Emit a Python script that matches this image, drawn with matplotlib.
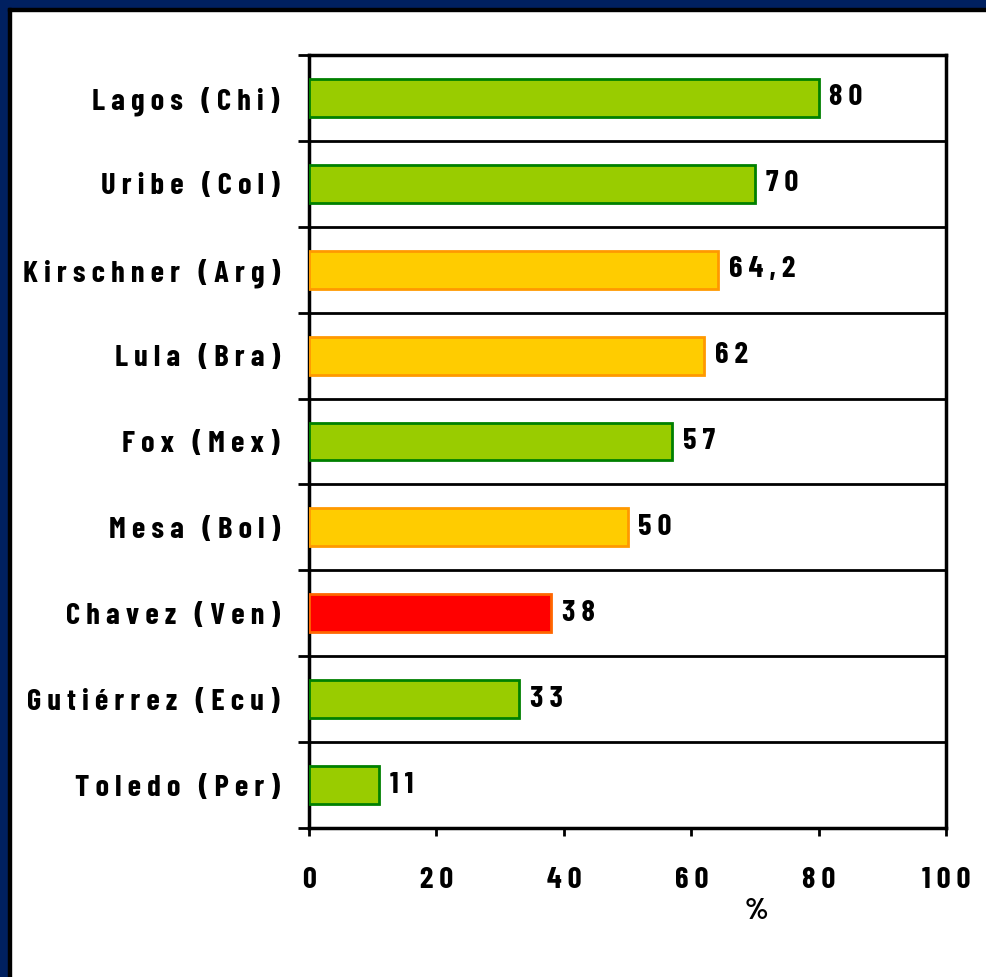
import matplotlib
matplotlib.use("Agg")
import matplotlib.pyplot as plt
from matplotlib.patches import Rectangle
import numpy as np

categories = ["Lagos (Chi)", "Uribe (Col)", "Kirschner (Arg)", "Lula (Bra)", "Fox (Mex)",
              "Mesa (Bol)", "Chavez (Ven)", "Gutiérrez (Ecu)", "Toledo (Per)"]
values = [80, 70, 64.2, 62, 57, 50, 38, 33, 11]
value_labels = ["80", "70", "64,2", "62", "57", "50", "38", "33", "11"]
groups = ["g", "g", "y", "y", "g", "y", "r", "g", "g"]
xticks = [0, 20, 40, 60, 80, 100]
xlabel = "%"

fills = {"g": "#99CC00", "y": "#FFCC00", "r": "#FF0000"}
edges = {"g": "#008000", "y": "#FF9900", "r": "#FF6600"}

FONT = dict(family=["Barlow Condensed", "DejaVu Sans"], weight="bold", size=22)

def spaced(s):
    return " ".join(list(s))

W, H = 987, 977
fig = plt.figure(figsize=(W / 100, H / 100), dpi=100, facecolor="white")

# navy frame top and left
navy = "#002060"
fig.patches.append(Rectangle((0, 0), 8 / W, 1, transform=fig.transFigure, color=navy, zorder=0))
fig.patches.append(Rectangle((0, 1 - 8 / H), 1, 8 / H, transform=fig.transFigure, color=navy, zorder=0))
fig.patches.append(Rectangle((8 / W, 0), 2.5 / W, 1 - 8 / H, transform=fig.transFigure, color="black", zorder=0))
fig.patches.append(Rectangle((8 / W, 1 - 10.5 / H), 1 - 8 / W, 2.5 / H, transform=fig.transFigure, color="black", zorder=0))

ax = fig.add_axes([309 / W, 1 - 828 / H, (946 - 309) / W, (828 - 55) / H])
n = len(categories)
y = np.arange(n)
for i in range(n):
    ax.barh(y[i], values[i], height=0.44, color=fills[groups[i]],
            edgecolor=edges[groups[i]], linewidth=2, zorder=3)
    ax.text(values[i] + 1.7, y[i], spaced(value_labels[i]), ha="left", va="center", **FONT)

ax.set_xlim(0, 100)
ax.set_ylim(n - 0.5, -0.5)
ax.set_yticks(y)
ax.set_yticklabels([spaced(c) for c in categories], **FONT)
ax.set_yticks(np.arange(n + 1) - 0.5, minor=True)
ax.tick_params(axis="y", which="major", length=0, pad=21)
ax.tick_params(axis="y", which="minor", length=8, width=2, direction="out", color="black")
ax.grid(axis="y", which="minor", color="black", linewidth=2, zorder=1)
ax.set_xticks(xticks)
ax.set_xticklabels([spaced(str(t)) for t in xticks], **FONT)
ax.tick_params(axis="x", length=6, width=2, direction="out", pad=22)
ax.set_xlabel(xlabel, **FONT)
ax.xaxis.set_label_coords(0.703, -0.09)
for s in ax.spines.values():
    s.set_linewidth(2.5)
    s.set_color("black")

fig.savefig("out.png", dpi=100, facecolor="white")
